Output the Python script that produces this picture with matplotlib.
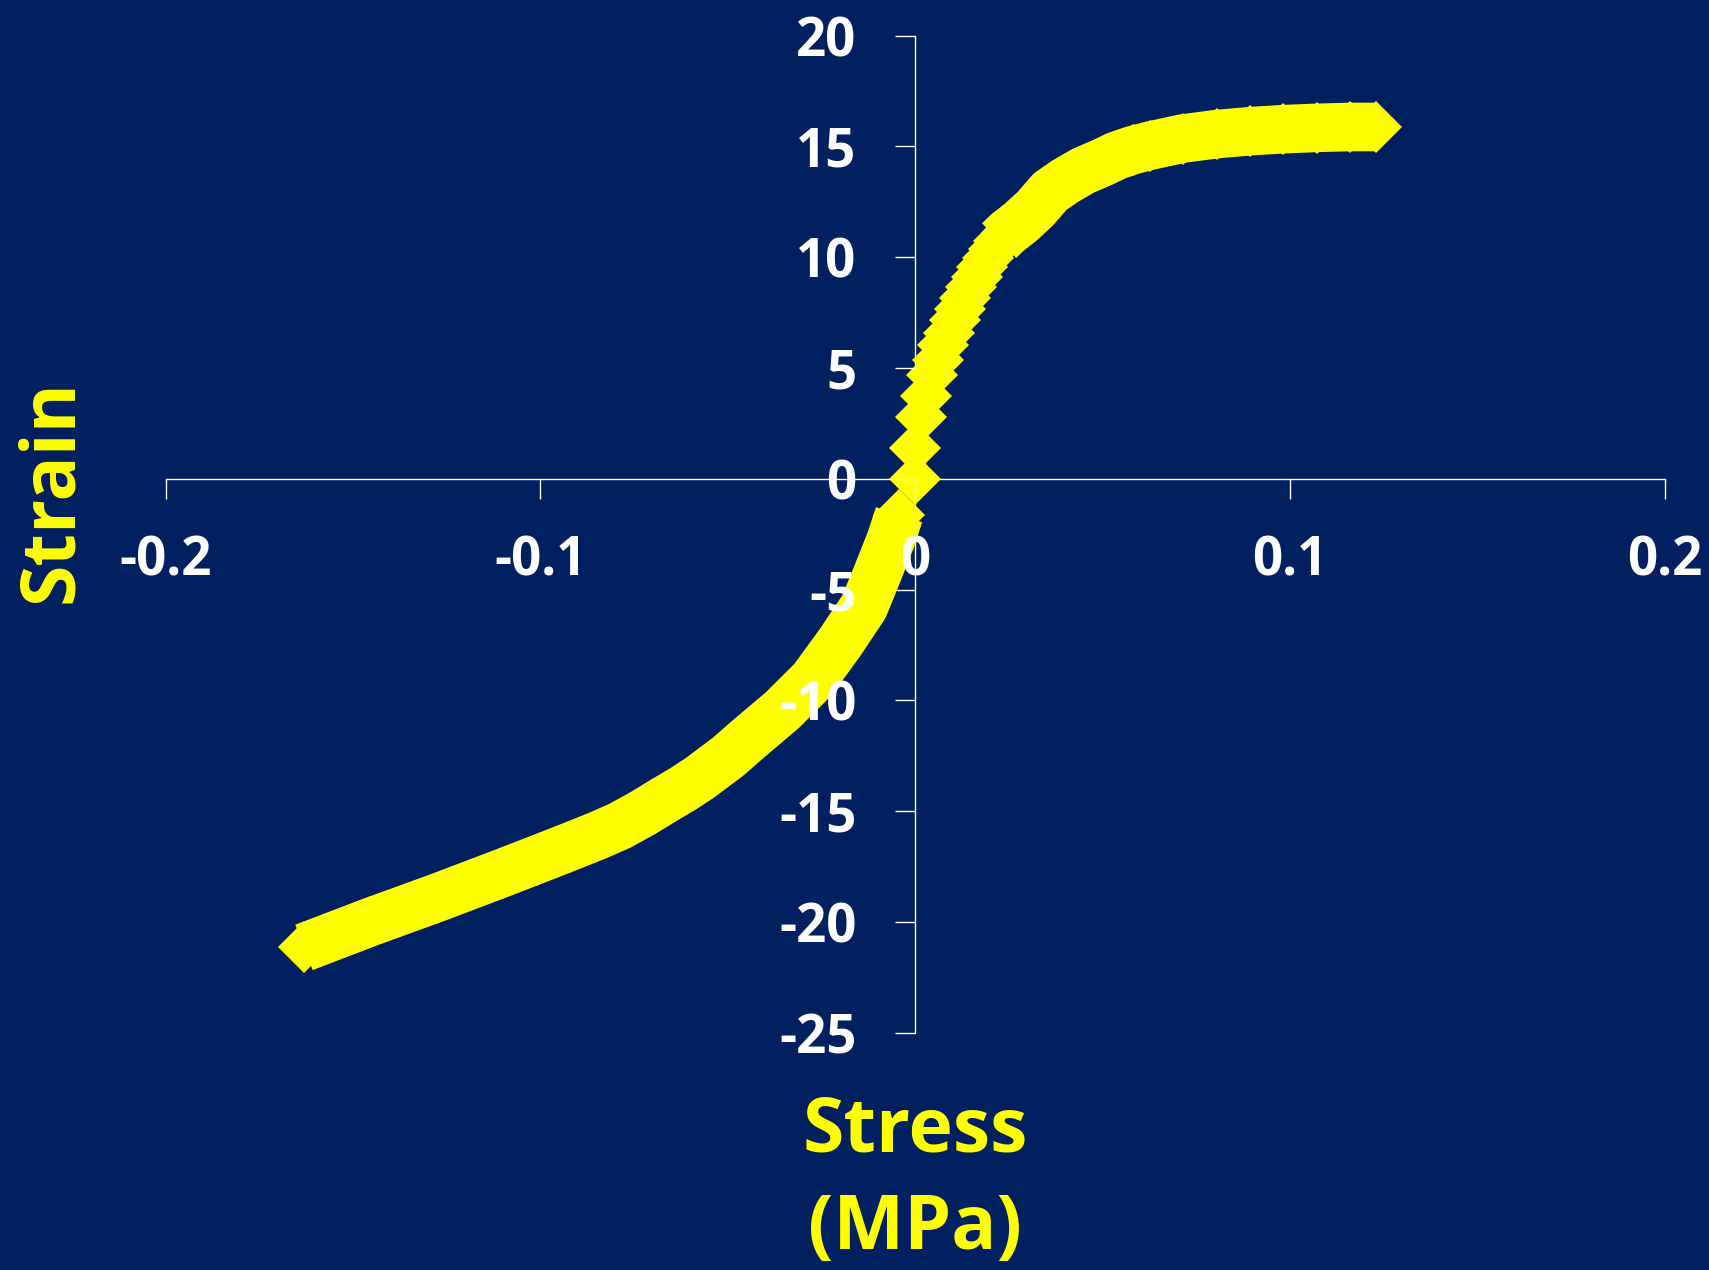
import numpy as np
import matplotlib
matplotlib.use('Agg')
from matplotlib import pyplot as plt

NAVY = '#002060'
YELLOW = '#FFFF00'

# values: stress (MPa) vs strain
stress = [-0.1631, -0.1455, -0.1276, -0.1100, -0.1010, -0.0921, -0.0850, -0.0788,
          -0.0725, -0.0668, -0.0620, -0.0574, -0.0500, -0.0441, -0.0355, -0.0273,
          -0.0201, -0.0137, -0.0102, -0.0065, -0.0043,
          0.0, 0.0, 0.0015, 0.0030, 0.0045, 0.0060, 0.0074, 0.0089, 0.0105, 0.0119,
          0.0134, 0.0149, 0.0164, 0.0179, 0.0193, 0.0209, 0.0224,
          0.0245, 0.0280, 0.0320, 0.0360, 0.0400, 0.0449, 0.0500, 0.0538, 0.0580,
          0.0627, 0.0715, 0.0805, 0.0894, 0.0982, 0.1071, 0.1160, 0.1230]
strain = [-21.15, -20.01, -18.91, -17.78, -17.19, -16.60, -16.12, -15.66,
          -15.07, -14.48, -14.00, -13.49, -12.55, -11.68, -10.45, -9.07,
          -7.40, -5.78, -4.33, -2.75, -1.62,
          0.0, 1.39, 2.79, 3.75, 4.68, 5.35, 6.05, 6.60, 7.15, 7.66,
          8.18, 8.65, 9.10, 9.55, 9.98, 10.38, 10.75,
          11.10, 11.56, 12.18, 12.96, 13.43, 13.91, 14.28, 14.59, 14.83,
          15.04, 15.36, 15.56, 15.69, 15.78, 15.84, 15.88, 15.88]

x_ticks = [-0.2, -0.1, 0, 0.1, 0.2]
x_ticklabels = ['-0.2', '-0.1', '0', '0.1', '0.2']
y_ticks = [-25, -20, -15, -10, -5, 0, 5, 10, 15, 20]

plt.rcParams['font.family'] = ['Open Sans', 'DejaVu Sans']
plt.rcParams['font.weight'] = 'bold'
plt.rcParams['axes.unicode_minus'] = False

fig = plt.figure(figsize=(17.09, 12.70), dpi=100, facecolor=NAVY)
ax = fig.add_axes([0.09696, 0.18685, 0.8771, 0.78504])
ax.set_facecolor(NAVY)

s = np.array(stress)
e = np.array(strain)
# fill the gaps between the overlapping diamonds on the smooth branches
for m in (s <= -0.0043, s >= 0.0224):
    ax.plot(s[m], e[m], color=YELLOW, lw=35, solid_capstyle='butt',
            solid_joinstyle='round', zorder=2)
ax.plot(s, e, linestyle='none', marker='D', ms=26, mew=0,
        color=YELLOW, zorder=2)

ax.set_xlim(-0.2, 0.2)
ax.set_ylim(-25, 20)
ax.set_xticks(x_ticks)
ax.set_xticklabels(x_ticklabels)
ax.set_yticks(y_ticks)

for side in ('top', 'right'):
    ax.spines[side].set_visible(False)
ax.spines['left'].set_position(('data', 0))
ax.spines['bottom'].set_position(('data', 0))
for side in ('left', 'bottom'):
    ax.spines[side].set_color('white')
    ax.spines[side].set_linewidth(1.0)
    ax.spines[side].set_zorder(1)

ax.tick_params(axis='both', colors='white', length=14.4, width=1.0,
               direction='out', labelsize=38)
ax.tick_params(axis='x', pad=26)
ax.tick_params(axis='y', pad=28)
for lbl in ax.get_xticklabels() + ax.get_yticklabels():
    lbl.set_fontweight('bold')
ax.xaxis.set_zorder(3)
ax.yaxis.set_zorder(3)

fig.text(0.0421, 0.6134, 'Strain', rotation=90, rotation_mode='anchor',
         ha='center', va='baseline', color=YELLOW, fontsize=54, fontweight='bold')
fig.text(0.5355, 0.0935, 'Stress', ha='center', va='baseline',
         color=YELLOW, fontsize=54, fontweight='bold')
fig.text(0.5355, 0.0165, '(MPa)', ha='center', va='baseline',
         color=YELLOW, fontsize=54, fontweight='bold')

fig.savefig('out.png', dpi=100, facecolor=NAVY)
plt.close(fig)
